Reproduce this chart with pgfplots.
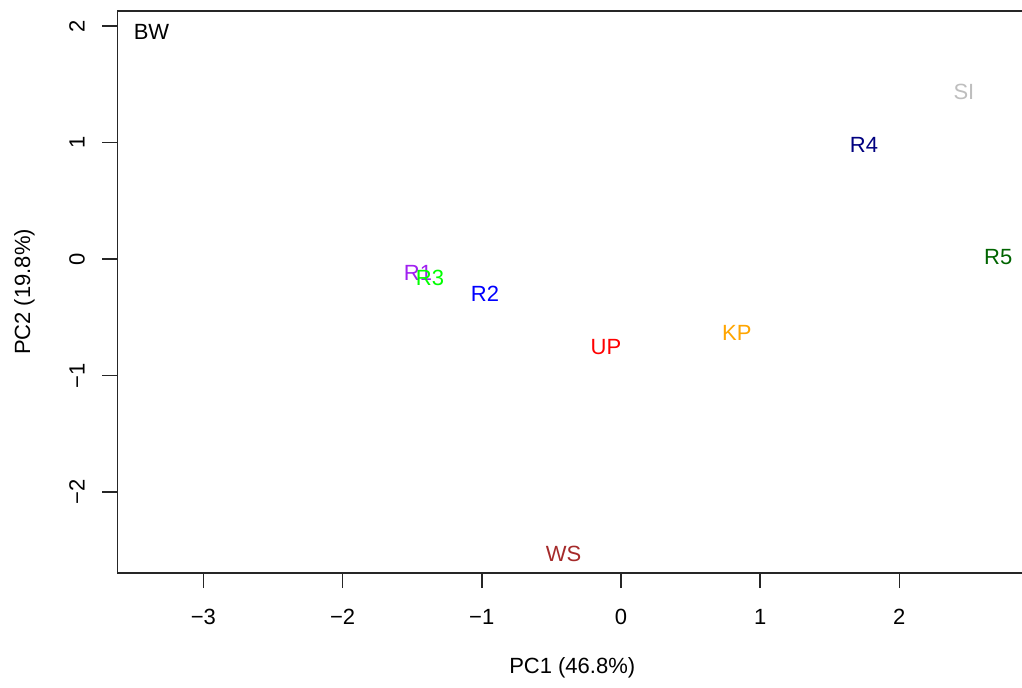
\documentclass[border=0pt]{standalone}
\usepackage{pgfplots}
\pgfplotsset{compat=1.18}
\usepackage{fontspec}
\setmainfont{Liberation Sans}

\definecolor{cR1}{HTML}{A020F0}
\definecolor{cR3}{HTML}{00FF00}
\definecolor{cR2}{HTML}{0000FF}
\definecolor{cUP}{HTML}{FF0000}
\definecolor{cKP}{HTML}{FFA500}
\definecolor{cWS}{HTML}{A52A2A}
\definecolor{cR4}{HTML}{000080}
\definecolor{cSI}{HTML}{BEBEBE}
\definecolor{cR5}{HTML}{006400}

% PCA scores, one site per row
\pgfplotstableread{
x       y       site
-1.458  -0.116  R1
-1.372  -0.159  R3
-0.977  -0.296  R2
-0.108  -0.755  UP
0.833   -0.635  KP
-0.413  -2.528  WS
1.746   0.979   R4
2.464   1.433   SI
2.710   0.021   R5
}\scores

\newcommand{\site}[2]{%
  \addplot[only marks, mark=none, color=#2,
    nodes near coords, point meta=explicit symbolic,
    every node near coord/.append style={anchor=center, text=#2, font=\fontsize{11}{13}\selectfont}]
    table[x=x, y=y, meta=site, restrict expr to domain={\coordindex}{#1:#1}] {\scores};}

\begin{document}
\fontsize{11}{13}\selectfont
\begin{tikzpicture}
\begin{axis}[
  at={(0,0)}, anchor=south west,
  scale only axis,
  width=454.75pt, height=281pt,
  xmin=-3.617, xmax=2.917,
  ymin=-2.695, ymax=2.129,
  axis line style={line width=0.8pt, color=black!85},
  tick style={line width=0.8pt, color=black!85},
  tick align=outside,
  major tick length=7.5pt,
  xtick pos=bottom, ytick pos=left,
  xtick={-3,-2,-1,0,1,2},
  xticklabels={−3,−2,−1,0,1,2},
  ytick={-2,-1,0,1,2},
  yticklabels={−2,−1,0,1,2},
  xticklabel style={anchor=center, yshift=-14.5pt, font=\fontsize{11}{13}\selectfont},
  yticklabel style={anchor=center, xshift=-12.75pt, rotate=90, font=\fontsize{11}{13}\selectfont},
  xlabel={PC1 (46.8\%)},
  ylabel={PC2 (19.8\%)},
  xlabel style={at={(axis description cs:0.5,-0.169)}, anchor=center, font=\fontsize{11}{13}\selectfont},
  ylabel style={at={(axis description cs:-0.1023,0.5)}, anchor=center, rotate=0, font=\fontsize{11}{13}\selectfont},
  clip=false,
]
\site{0}{cR1}
\site{1}{cR3}
\site{2}{cR2}
\site{3}{cUP}
\site{4}{cKP}
\site{5}{cWS}
\site{6}{cR4}
\site{7}{cSI}
\site{8}{cR5}
\node[anchor=west, font=\fontsize{11}{13}\selectfont] at (axis description cs:0.0094,0.963) {BW};
\end{axis}
\pgfresetboundingbox
\path[use as bounding box] (-58.75pt,-57pt) rectangle (452.25pt,286.5pt);
\end{tikzpicture}
\end{document}
